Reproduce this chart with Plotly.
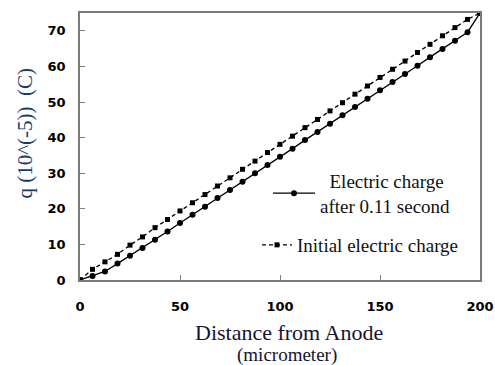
import plotly.graph_objects as go

distance = [0, 6.25, 12.5, 18.75, 25, 31.25, 37.5, 43.75, 50, 56.25, 62.5, 68.75,
            75, 81.25, 87.5, 93.75, 100, 106.25, 112.5, 118.75, 125, 131.25, 137.5,
            143.75, 150, 156.25, 162.5, 168.75, 175, 181.25, 187.5, 193.75, 200]

charge_after = [0, 1.1, 2.4, 4.6, 6.8, 9.0, 11.3, 13.6, 16.0, 18.3, 20.6, 23.0,
                25.3, 27.6, 30.0, 32.3, 34.6, 36.9, 39.3, 41.6, 43.9, 46.3, 48.6,
                50.9, 53.3, 55.6, 57.9, 60.2, 62.6, 64.9, 67.2, 69.6, 75.0]

charge_initial = [0, 3.0, 5.1, 7.2, 9.8, 12.1, 14.7, 17.0, 19.4, 21.7, 24.0, 26.4,
                  28.7, 31.1, 33.4, 35.8, 38.1, 40.4, 42.8, 45.1, 47.5, 49.8, 52.2,
                  54.5, 56.9, 59.2, 61.5, 63.9, 66.2, 68.6, 70.9, 73.2, 75.0]

x_ticks = [0, 50, 100, 150, 200]
y_ticks = [0, 10, 20, 30, 40, 50, 60, 70]

name_after = "\u00a0\u00a0Electric charge<br>after 0.11 second"
name_initial = "Initial electric charge"

fig = go.Figure()
fig.add_trace(go.Scatter(
    x=distance, y=charge_after, mode="lines+markers", name=name_after,
    line=dict(color="black", width=1.3),
    marker=dict(symbol="circle", size=6, color="black"),
    legend="legend",
))
fig.add_trace(go.Scatter(
    x=distance, y=charge_initial, mode="lines+markers", name=name_initial,
    line=dict(color="black", width=1.3, dash="4px,3px"),
    marker=dict(symbol="square", size=5, color="black"),
    legend="legend2",
))

W, H = 495, 365
ml, mr, mt, mb = 80, 15, 13, 85
pw, ph = W - ml - mr, H - mt - mb

def px_x(p):
    return (p - ml) / pw

def px_y(p):
    return (H - mb - p) / ph

tickfont = dict(family="DejaVu Sans", size=13, color="black", weight="bold")
legfont = dict(family="Liberation Serif", size=19, color="#111111")

fig.update_layout(
    width=W, height=H,
    margin=dict(l=ml, r=mr, t=mt, b=mb, autoexpand=False),
    paper_bgcolor="white", plot_bgcolor="white",
    showlegend=True,
    xaxis=dict(
        range=[0, 200], tickvals=x_ticks, ticktext=[str(v) for v in x_ticks],
        ticks="inside", ticklen=5, tickcolor="#808080", tickwidth=1,
        showline=True, linecolor="#7a7a7a", linewidth=1.5, mirror=True,
        showgrid=False, zeroline=False, tickfont=tickfont,
        ticklabelstandoff=14, automargin=False,
    ),
    yaxis=dict(
        range=[0, 75], tickvals=y_ticks, ticktext=[str(v) for v in y_ticks],
        ticks="inside", ticklen=5, tickcolor="#808080", tickwidth=1,
        showline=True, linecolor="#7a7a7a", linewidth=1.5, mirror=True,
        showgrid=False, zeroline=False, tickfont=tickfont,
        ticklabelstandoff=10, automargin=False,
    ),
    legend=dict(
        x=px_x(268), y=px_y(162), xanchor="left", yanchor="top",
        bgcolor="rgba(0,0,0,0)", font=legfont, itemwidth=42, valign="middle",
    ),
    legend2=dict(
        x=px_x(257), y=px_y(226), xanchor="left", yanchor="top",
        bgcolor="rgba(0,0,0,0)", font=legfont, itemwidth=30, valign="middle",
    ),
    annotations=[
        dict(text="q (10^(-5))  (C)", xref="paper", yref="paper", x=0, y=0.5,
             xanchor="center", yanchor="middle", xshift=-(ml - 24), yshift=13,
             textangle=-90, showarrow=False,
             font=dict(family="Liberation Serif", size=21, color="#1b3a66")),
        dict(text="Distance from Anode", xref="paper", yref="paper", x=0.5, y=0,
             xanchor="center", yanchor="middle", xshift=9, yshift=-52,
             showarrow=False,
             font=dict(family="Liberation Serif", size=22, color="#15152e")),
        dict(text="(micrometer)", xref="paper", yref="paper", x=0.5, y=0,
             xanchor="center", yanchor="middle", xshift=7, yshift=-75,
             showarrow=False,
             font=dict(family="Liberation Serif", size=19, color="#15152e")),
    ],
)

fig.write_html(
    "out.html",
    config={"displayModeBar": False},
    post_script="document.body.style.margin='0';document.body.style.overflow='hidden';",
)
